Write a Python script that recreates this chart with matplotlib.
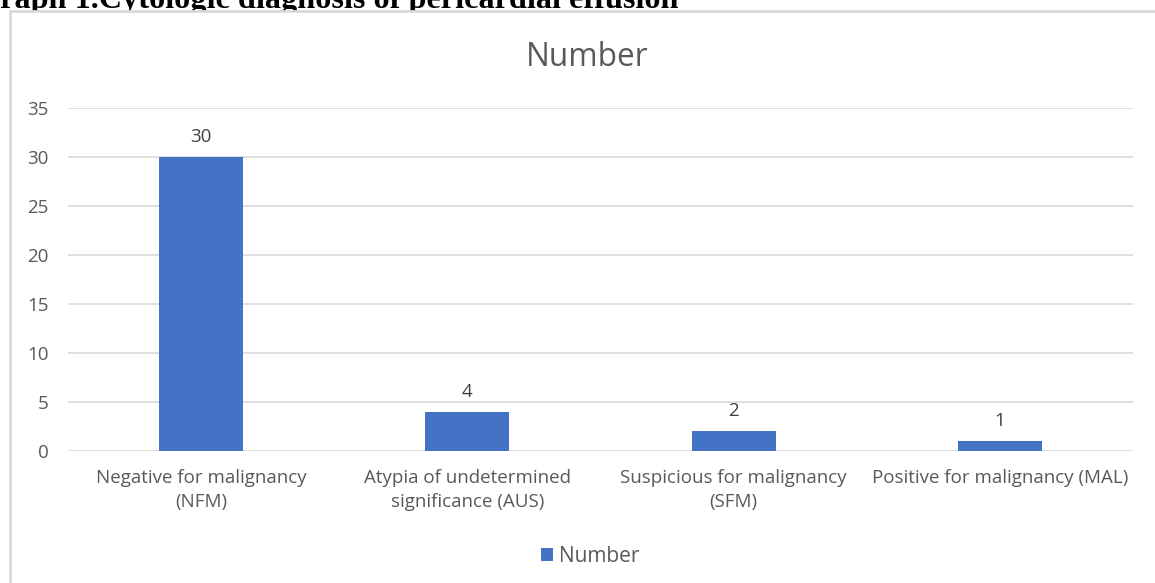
import matplotlib
matplotlib.use("Agg")
import matplotlib.pyplot as plt
from matplotlib.patches import Rectangle

categories = ["Negative for malignancy\n(NFM)",
              "Atypia of undetermined\nsignificance (AUS)",
              "Suspicious for malignancy\n(SFM)",
              "Positive for malignancy (MAL)"]
values = [30, 4, 2, 1]
yticks = [0, 5, 10, 15, 20, 25, 30, 35]
series_name = "Number"
chart_title = "Number"
doc_caption = "Graph 1.Cytologic diagnosis of pericardial effusion"

W, H = 1155, 583
fig = plt.figure(figsize=(W / 100, H / 100), dpi=100)
plt.rcParams['font.family'] = ['Open Sans', 'DejaVu Sans']

# caption of the document, partly hidden behind the chart frame as in the source
fig.text(-25 / W, 1 - 8 / H, doc_caption, family="Liberation Serif",
         fontweight="bold", fontsize=23.2, color="black", va="baseline", ha="left",
         zorder=-2)

# outer chart frame (white, covers the lower part of the caption)
fig.patches.append(Rectangle((10 / W, -0.05), 1.2, 1 - 10.5 / H + 0.05,
                             transform=fig.transFigure, facecolor="white",
                             edgecolor="#d9d9d9", linewidth=2, zorder=-1))

ax = fig.add_axes([68 / W, 132 / H, (1133 - 68) / W, (451 - 108) / H])
ax.set_facecolor("none")
x = list(range(len(categories)))
bars = ax.bar(x, values, width=0.316, color="#4472c4", label=series_name, zorder=3)
ax.set_xlim(-0.5, len(categories) - 0.5)
ax.set_ylim(0, 35)
ax.set_yticks(yticks)
ax.set_xticks(x)
ax.set_xticklabels(categories, fontsize=13.5, color="#595959", linespacing=1.4)
ax.tick_params(axis="y", labelsize=13.5, labelcolor="#595959", length=0, pad=14)
ax.tick_params(axis="x", length=0, pad=13)
ax.grid(axis="y", color="#d9d9d9", linewidth=1.2, zorder=0)
for s in ax.spines.values():
    s.set_visible(False)

for b, v in zip(bars, values):
    ax.annotate(str(v), (b.get_x() + b.get_width() / 2, v), xytext=(0, 8),
                textcoords="offset points", ha="center", va="bottom",
                fontsize=13.5, color="#404040")

fig.text(587 / W, 1 - 57 / H, chart_title, fontsize=22.8, color="#595959",
         ha="center", va="center")

fig.legend(handles=[bars], labels=[series_name], loc="center",
           bbox_to_anchor=(590 / W, 1 - 556 / H), frameon=False, fontsize=15,
           handlelength=0.6, handleheight=0.6, handletextpad=0.25,
           labelcolor="#595959")

fig.savefig("out.png", dpi=100)
